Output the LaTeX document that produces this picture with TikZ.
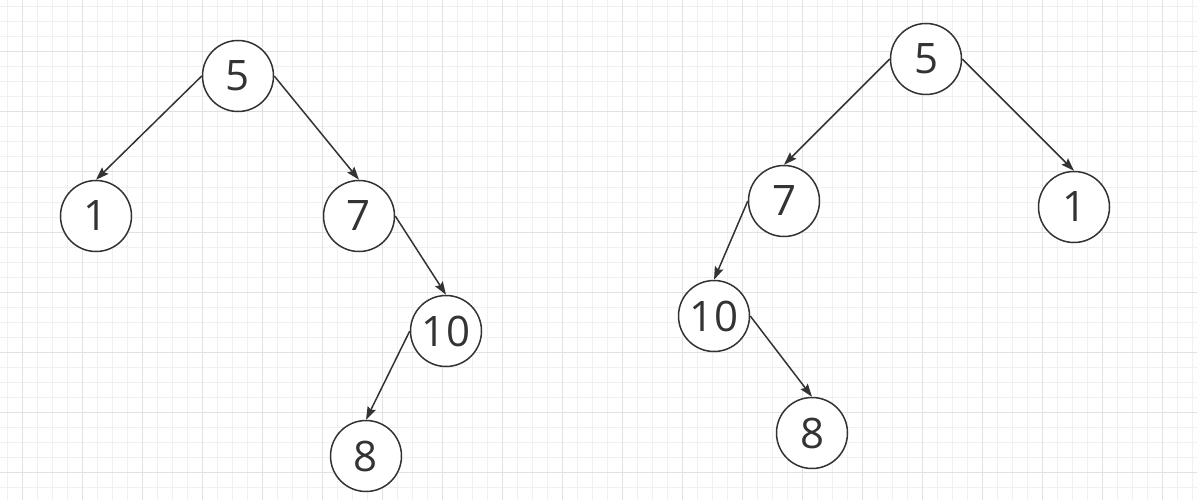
\documentclass[tikz,border=0pt]{standalone}
\usepackage{fontspec}
\setmainfont{Open Sans}
\usetikzlibrary{arrows.meta}
\definecolor{ink}{HTML}{333333}
\definecolor{gridminor}{HTML}{F0F0F0}
\definecolor{gridmajor}{HTML}{E2E2E2}

\begin{document}
\begin{tikzpicture}[
  x=1pt, y=-1pt,
  key/.style={circle, draw=ink, line width=1.5pt, fill=white, minimum size=71pt, inner sep=0pt, text=ink, font=\fontsize{42}{42}\selectfont},
  link/.style={draw=ink, line width=1.5pt, -{Stealth[length=13pt, width=9pt, inset=2pt]}},
  minorline/.style={draw=gridminor, line width=1pt},
  majorline/.style={draw=gridmajor, line width=1pt}
]
\useasboundingbox (0,0) rectangle (1197,500);

% background grid
\foreach \x in {7.5,22.5,...,1197} {\draw[minorline] (\x,0) -- (\x,500);}
\foreach \y in {7,22,...,500} {\draw[minorline] (0,\y) -- (1197,\y);}
\foreach \x in {22.5,82.5,...,1197} {\draw[majorline] (\x,0) -- (\x,500);}
\foreach \y in {52,112,...,500} {\draw[majorline] (0,\y) -- (1197,\y);}

% left tree
\node[key] (l5) at (238,76) {5};
\node[key] (l1) at (96,216) {1};
\node[key] (l7) at (359,216) {7};
\node[key] (l10) at (446,331) {10};
\node[key] (l8) at (366,456) {8};
\draw[link] (l5.west) -- (l1.north);
\draw[link] (l5.east) -- (l7.north);
\draw[link] (l7.east) -- (l10.north);
\draw[link] (l10.west) -- (l8.north);

% right tree
\node[key] (r5) at (926,59) {5};
\node[key] (r7) at (784,201) {7};
\node[key] (r1) at (1074,207) {1};
\node[key] (r10) at (714,316) {10};
\node[key] (r8) at (812,433) {8};
\draw[link] (r5.west) -- (r7.north);
\draw[link] (r5.east) -- (r1.north);
\draw[link] (r7.west) -- (r10.north);
\draw[link] (r10.east) -- (r8.north);
\end{tikzpicture}
\end{document}
